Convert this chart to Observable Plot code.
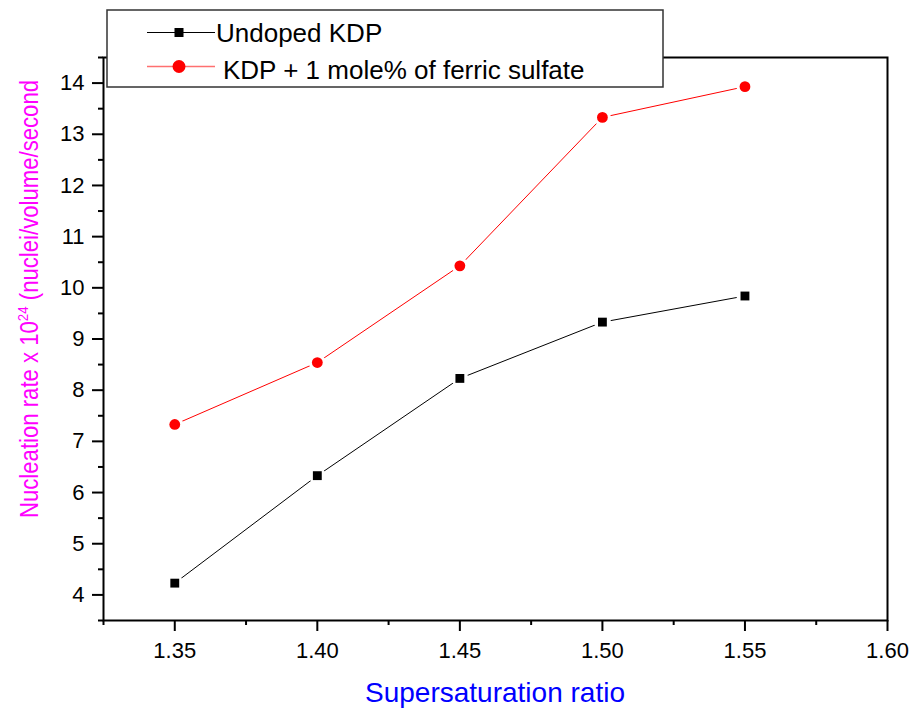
<!DOCTYPE html>
<html><head><meta charset="utf-8">
<script src="https://cdn.jsdelivr.net/npm/d3@7"></script>
<script src="https://cdn.jsdelivr.net/npm/@observablehq/plot@0.6"></script>
<style>body{margin:0;background:#fff}</style>
</head><body><div id="chart"></div>
<script>
const ratios = [1.35, 1.40, 1.45, 1.50, 1.55];
const undoped = [4.23, 6.33, 8.23, 9.33, 9.84];
const doped = [7.33, 8.54, 10.43, 13.33, 13.93];
const seriesNames = ["Undoped KDP", "KDP + 1 mole% of ferric sulfate"];
const xTicks = [1.35, 1.40, 1.45, 1.50, 1.55, 1.60];
const xMinor = [1.325, 1.375, 1.425, 1.475, 1.525, 1.575];
const yTicks = [4, 5, 6, 7, 8, 9, 10, 11, 12, 13, 14];
const yMinor = [3.5, 4.5, 5.5, 6.5, 7.5, 8.5, 9.5, 10.5, 11.5, 12.5, 13.5, 14.5];
const xTitle = "Supersaturation ratio";
const yTitleParts = ["Nucleation rate x 10", "24", " (nuclei/volume/second"];

const blackRows = ratios.map((r, i) => ({x: r, y: undoped[i]}));
const redRows = ratios.map((r, i) => ({x: r, y: doped[i]}));
const allRows = blackRows.concat(redRows);

const font = "'Liberation Sans', Arial, sans-serif";

const svg = Plot.plot({
  width: 913,
  height: 708,
  marginLeft: 103,
  marginRight: 26,
  marginTop: 57,
  marginBottom: 88,
  style: {fontFamily: font, fontSize: "22px", color: "black", background: "white"},
  x: {domain: [1.325, 1.6]},
  y: {domain: [3.5, 14.5]},
  marks: [
    Plot.axisY(yMinor, {tickSize: 5, strokeWidth: 2, text: null, label: null}),
    Plot.axisY(yTicks, {tickSize: 11, tickPadding: 8, strokeWidth: 2, fontSize: 22, tickFormat: d => String(d), label: null}),
    Plot.axisX(xMinor, {tickSize: 5, strokeWidth: 2, text: null, label: null}),
    Plot.axisX(xTicks, {tickSize: 11, tickPadding: 11, strokeWidth: 2, fontSize: 22, tickFormat: d3.format(".2f"), label: null}),
    Plot.frame({stroke: "black", strokeWidth: 2}),
    Plot.line(blackRows, {x: "x", y: "y", stroke: "black", strokeWidth: 1}),
    Plot.line(redRows, {x: "x", y: "y", stroke: "#ff0000", strokeWidth: 1}),
    Plot.dot(allRows, {x: "x", y: "y", r: 8.5, fill: "white", stroke: null}),
    Plot.dot(blackRows, {x: "x", y: "y", symbol: "square", r: 5, fill: "black", stroke: null}),
    Plot.dot(redRows, {x: "x", y: "y", r: 5.4, fill: "#ff0000", stroke: null})
  ]
});
document.getElementById("chart").appendChild(svg);

const s = d3.select(svg);
// x title
s.append("text").attr("x", 495).attr("y", 702).attr("text-anchor", "middle")
  .attr("font-family", font).attr("font-size", 28).attr("fill", "#0000ff").text(xTitle);
// y title
const yt = s.append("text").attr("transform", "translate(38,299) rotate(-90)").attr("text-anchor", "middle")
  .attr("font-family", font).attr("font-size", 25).attr("fill", "#ff00ff")
  .attr("textLength", 438).attr("lengthAdjust", "spacingAndGlyphs");
yt.append("tspan").text(yTitleParts[0]);
yt.append("tspan").attr("font-size", 15).attr("dy", -10).text(yTitleParts[1]);
yt.append("tspan").attr("dy", 10).text(yTitleParts[2]);

// legend
const lg = s.append("g").attr("text-anchor", "start");
lg.append("rect").attr("x", 107).attr("y", 10).attr("width", 556).attr("height", 77)
  .attr("fill", "white").attr("stroke", "#333").attr("stroke-width", 1.5);
lg.append("line").attr("x1", 147).attr("x2", 215).attr("y1", 32.5).attr("y2", 32.5).attr("stroke", "black").attr("stroke-width", 1);
lg.append("rect").attr("x", 174.5).attr("y", 28).attr("width", 9).attr("height", 9).attr("fill", "black");
lg.append("text").attr("x", 216).attr("y", 42).attr("text-anchor", "start").attr("font-family", font).attr("font-size", 26).attr("fill", "black").text(seriesNames[0]);
lg.append("line").attr("x1", 147).attr("x2", 215).attr("y1", 66.5).attr("y2", 66.5).attr("stroke", "#ff7070").attr("stroke-width", 1.5);
lg.append("circle").attr("cx", 179).attr("cy", 66.5).attr("r", 6.5).attr("fill", "#ff0000");
lg.append("text").attr("x", 223).attr("y", 79).attr("text-anchor", "start").attr("font-family", font).attr("font-size", 26).attr("fill", "black").text(seriesNames[1]);
</script>
</body></html>
